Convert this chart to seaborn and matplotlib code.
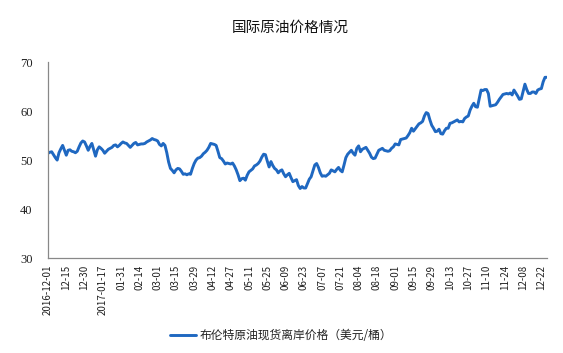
import matplotlib
matplotlib.use("Agg")
import matplotlib.pyplot as plt
import seaborn as sns
import pandas as pd

# 布伦特原油现货离岸价格 (美元/桶)，每个交易日一个值
prices = [
    51.4, 51.6, 51.7, 51.1, 50.5, 50.0, 51.5, 52.3, 53.0, 52.0,
    51.0, 52.0, 52.1, 51.8, 51.7, 51.5, 51.8, 52.7, 53.5, 53.9,
    53.7, 52.9, 52.0, 52.8, 53.4, 52.1, 50.8, 52.1, 52.7, 52.4,
    52.0, 51.4, 51.8, 52.2, 52.4, 52.6, 53.0, 53.1, 52.7, 53.0,
    53.4, 53.7, 53.5, 53.4, 53.0, 52.6, 53.0, 53.4, 53.6, 53.1,
    53.2, 53.3, 53.3, 53.4, 53.7, 53.9, 54.1, 54.4, 54.2, 54.1,
    53.9, 53.2, 52.9, 53.4, 53.0, 51.5, 49.6, 48.3, 47.9, 47.4,
    48.0, 48.3, 48.2, 47.7, 47.1, 47.2, 47.0, 47.2, 47.1, 48.3,
    49.3, 50.0, 50.4, 50.5, 50.8, 51.3, 51.6, 52.0, 52.6, 53.4,
    53.3, 53.2, 53.0, 51.8, 50.5, 50.3, 49.8, 49.2, 49.4, 49.3,
    49.2, 49.4, 48.8, 48.0, 47.0, 45.8, 46.2, 46.3, 45.9, 46.9,
    47.6, 47.9, 48.2, 48.8, 49.0, 49.3, 49.8, 50.6, 51.2, 51.1,
    49.8, 48.6, 49.7, 48.9, 48.3, 48.0, 47.4, 47.8, 48.0, 47.2,
    46.6, 47.0, 47.3, 46.4, 45.6, 45.8, 46.0, 44.8, 44.2, 44.6,
    44.3, 44.3, 45.2, 46.1, 46.6, 47.8, 49.0, 49.3, 48.5, 47.4,
    46.7, 46.8, 46.7, 47.0, 47.3, 48.0, 47.8, 47.6, 48.1, 48.5,
    47.9, 47.6, 49.0, 50.5, 51.2, 51.6, 52.0, 51.4, 51.0, 52.4,
    52.9, 51.7, 52.2, 52.4, 52.6, 52.0, 51.4, 50.6, 50.3, 50.4,
    51.2, 52.0, 52.2, 52.4, 52.0, 51.9, 51.8, 51.9, 52.4, 52.7,
    53.3, 53.2, 53.1, 54.2, 54.3, 54.4, 54.5, 55.0, 55.6, 56.5,
    55.9, 56.4, 56.9, 57.4, 57.6, 57.9, 59.0, 59.7, 59.5, 58.2,
    57.1, 56.5, 55.8, 55.9, 56.3, 55.4, 55.3, 56.0, 56.5, 56.5,
    57.5, 57.6, 57.8, 58.0, 58.2, 57.8, 57.9, 57.8, 58.5, 58.8,
    59.0, 60.2, 61.0, 61.6, 60.9, 60.8, 62.5, 64.3, 64.2, 64.4,
    64.4, 63.6, 61.0, 61.1, 61.2, 61.3, 61.8, 62.4, 62.9, 63.4,
    63.5, 63.6, 63.5, 63.7, 63.3, 64.3, 63.7, 63.1, 62.4, 62.5,
    64.0, 65.5, 64.4, 63.6, 63.6, 63.9, 63.9, 63.6, 64.3, 64.5,
    64.6, 66.0, 66.9, 66.9,
]

# 横轴每 10 个交易日一个标签
tick_labels = [
    "2016-12-01", "12-15", "12-30", "2017-01-17", "01-31", "02-14", "03-01",
    "03-15", "03-29", "04-12", "04-27", "05-11", "05-25", "06-09", "06-23",
    "07-07", "07-21", "08-04", "08-18", "09-01", "09-15", "09-29", "10-13",
    "10-27", "11-10", "11-24", "12-08", "12-22",
]
label_step = 10
series_name = "布伦特原油现货离岸价格（美元/桶）"

df = pd.DataFrame({"day": range(len(prices)), "price": prices})

sns.set_style("white")
plt.rcParams["font.family"] = ["Noto Sans CJK SC", "DejaVu Sans"]

fig = plt.figure(figsize=(5.63, 3.53), dpi=100)
ax = fig.add_axes([0.0853, 0.269, 0.886, 0.555])

sns.lineplot(data=df, x="day", y="price", ax=ax, color="#1f68c1",
             linewidth=2.1, label=series_name, legend=False)

ax.set_xlim(0, len(prices) - 1)
ax.set_ylim(30, 70)
ax.set_yticks([30, 40, 50, 60, 70])
ax.set_xticks([i * label_step for i in range(len(tick_labels))])
ax.set_xticklabels(tick_labels, rotation=90, fontsize=7)
ax.set_xlabel("")
ax.set_ylabel("")

for lab in ax.get_yticklabels():
    lab.set_fontfamily("Liberation Serif")
    lab.set_fontsize(9)

ax.tick_params(axis="both", direction="in", length=3, width=0.8,
               colors="#888888", labelcolor="#222222")
ax.tick_params(axis="y", pad=11)
ax.tick_params(axis="x", pad=5)
sns.despine(ax=ax)
for side in ["left", "bottom"]:
    ax.spines[side].set_color("#888888")
    ax.spines[side].set_linewidth(0.9)

fig.text(0.515, 0.92, "国际原油价格情况", ha="center", va="center",
         fontsize=10.5, fontweight="medium", color="#111111")

handles, labels = ax.get_legend_handles_labels()
fig.legend(handles, labels, loc="center", bbox_to_anchor=(0.5, 0.05),
           frameon=False, fontsize=8.5, handlelength=2.2, handletextpad=0.3,
           labelcolor="#222222")

fig.savefig("out.png", dpi=100)
